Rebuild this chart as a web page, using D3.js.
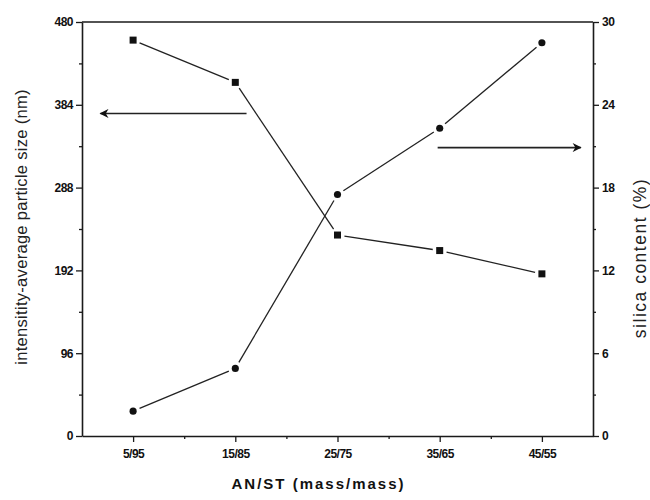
<!DOCTYPE html>
<html>
<head>
<meta charset="utf-8">
<script src="https://cdn.jsdelivr.net/npm/d3@7"></script>
<style>
  body { margin: 0; background: #fff; }
  svg { display: block; font-family: "Liberation Sans", Arial, sans-serif; }
</style>
</head>
<body>
<div id="chart"></div>
<script>
// categories on the x axis (AN/ST mass ratio)
const ratios = ["5/95", "15/85", "25/75", "35/65", "45/55"];
// left series: intensity-average particle size (nm)
const particleSize = [459, 410, 233, 215, 188];
// right series: silica content (%)
const silicaContent = [1.8, 4.9, 17.5, 22.3, 28.5];
// tick values
const sizeTicks = [0, 96, 192, 288, 384, 480];
const silicaTicks = [0, 6, 12, 18, 24, 30];
// arrows pointing to the axis each curve belongs to (x in category index units)
const leftArrow = {from: 1.11, to: -0.32, value: 374};
const rightArrow = {from: 2.98, to: 4.38, value: 20.9};

const width = 650, height = 500;
const margin = {top: 22, right: 57, bottom: 64, left: 82};
const w = width - margin.left - margin.right;
const h = height - margin.top - margin.bottom;

const svg = d3.select("#chart").append("svg")
    .attr("width", width).attr("height", height);

// arrow head definition
svg.append("defs").append("marker")
    .attr("id", "head")
    .attr("viewBox", "0 0 10 10")
    .attr("refX", 9).attr("refY", 5)
    .attr("markerWidth", 11).attr("markerHeight", 9)
    .attr("markerUnits", "userSpaceOnUse")
    .attr("orient", "auto")
  .append("path")
    .attr("d", "M0,0 L10,5 L0,10 L3,5 Z")
    .attr("fill", "#111");

const g = svg.append("g").attr("transform", `translate(${margin.left},${margin.top})`);

// x as a linear scale over category index so that minor ticks / arrows can sit between
const x = d3.scaleLinear().domain([-0.5, 4.5]).range([0, w]);
const yL = d3.scaleLinear().domain([0, 480]).range([h, 0]);
const yR = d3.scaleLinear().domain([0, 30]).range([h, 0]);

const ink = "#1a1a1a";

// bottom axis
const xAxis = g.append("g").attr("transform", `translate(0,${h})`)
    .call(d3.axisBottom(x).tickValues(d3.range(5)).tickFormat(i => ratios[i]).tickSize(6).tickSizeOuter(0));
g.append("g").attr("transform", `translate(0,${h})`)
    .call(d3.axisBottom(x).tickValues([0.5, 1.5, 2.5, 3.5]).tickFormat("").tickSize(3).tickSizeOuter(0))
    .select(".domain").remove();

// left axis
const leftAxis = g.append("g")
    .call(d3.axisLeft(yL).tickValues(sizeTicks).tickSize(6).tickSizeOuter(0));
g.append("g")
    .call(d3.axisLeft(yL).tickValues([48, 144, 240, 336, 432]).tickFormat("").tickSize(3).tickSizeOuter(0))
    .select(".domain").remove();

// right axis
const rightAxis = g.append("g").attr("transform", `translate(${w},0)`)
    .call(d3.axisRight(yR).tickValues(silicaTicks).tickSize(6).tickSizeOuter(0));
g.append("g").attr("transform", `translate(${w},0)`)
    .call(d3.axisRight(yR).tickValues([3, 9, 15, 21, 27]).tickFormat("").tickSize(3).tickSizeOuter(0))
    .select(".domain").remove();

// top frame line
g.append("line").attr("x1", 0).attr("x2", w).attr("y1", 0).attr("y2", 0)
    .attr("stroke", ink).attr("stroke-width", 1.6);

g.selectAll(".domain").attr("stroke", ink).attr("stroke-width", 1.6);
g.selectAll(".tick line").attr("stroke", ink).attr("stroke-width", 1.3);
g.selectAll(".tick text")
    .attr("fill", "#111")
    .style("font-size", "12px")
    .style("font-weight", "bold")
    .style("letter-spacing", "-0.5px");
xAxis.selectAll(".tick text").attr("dy", "1.1em");
leftAxis.selectAll(".tick text").attr("x", -9);
rightAxis.selectAll(".tick text").attr("x", 9);

// draw a series as segments with small gaps at the markers
function drawSeries(values, yScale, gap) {
  const pts = values.map((v, i) => [x(i), yScale(v)]);
  const segs = d3.pairs(pts).map(([a, b]) => {
    const dx = b[0] - a[0], dy = b[1] - a[1];
    const len = Math.hypot(dx, dy);
    const ux = dx / len, uy = dy / len;
    return [a[0] + ux * gap, a[1] + uy * gap, b[0] - ux * gap, b[1] - uy * gap];
  });
  g.append("g").selectAll("line").data(segs).join("line")
      .attr("x1", d => d[0]).attr("y1", d => d[1])
      .attr("x2", d => d[2]).attr("y2", d => d[3])
      .attr("stroke", "#222").attr("stroke-width", 1.3);
  return pts;
}

const sizePts = drawSeries(particleSize, yL, 7);
g.append("g").selectAll("rect").data(sizePts).join("rect")
    .attr("x", d => d[0] - 3.5).attr("y", d => d[1] - 3.5)
    .attr("width", 7).attr("height", 7)
    .attr("fill", "#111");

const silicaPts = drawSeries(silicaContent, yR, 7);
g.append("g").selectAll("path").data(silicaPts).join("path")
    .attr("transform", d => `translate(${d[0]},${d[1]})`)
    .attr("d", d3.symbol(d3.symbolCircle, 40))
    .attr("fill", "#111");

// arrows
g.append("line")
    .attr("x1", x(leftArrow.from)).attr("x2", x(leftArrow.to))
    .attr("y1", yL(leftArrow.value)).attr("y2", yL(leftArrow.value))
    .attr("stroke", "#222").attr("stroke-width", 1.6)
    .attr("marker-end", "url(#head)");
g.append("line")
    .attr("x1", x(rightArrow.from)).attr("x2", x(rightArrow.to))
    .attr("y1", yR(rightArrow.value)).attr("y2", yR(rightArrow.value))
    .attr("stroke", "#222").attr("stroke-width", 1.6)
    .attr("marker-end", "url(#head)");

// axis titles
svg.append("text")
    .attr("transform", `translate(${margin.left + w / 2 - 19},${height - 11})`)
    .attr("text-anchor", "middle")
    .style("font-size", "15px").style("font-weight", "bold")
    .style("letter-spacing", "2px")
    .attr("fill", "#111")
    .text("AN/ST (mass/mass)");

svg.append("text")
    .attr("transform", `translate(27,${margin.top + 205}) rotate(-90)`)
    .attr("text-anchor", "middle")
    .style("font-size", "16.5px")
    .style("letter-spacing", "0.3px")
    .attr("fill", "#222")
    .text("intensitity-average particle size (nm)");

svg.append("text")
    .attr("transform", `translate(646,${margin.top + 236}) rotate(-90)`)
    .attr("text-anchor", "middle")
    .style("font-size", "17.5px")
    .style("letter-spacing", "1.5px")
    .attr("fill", "#222")
    .text("silica content (%)");
</script>
</body>
</html>
